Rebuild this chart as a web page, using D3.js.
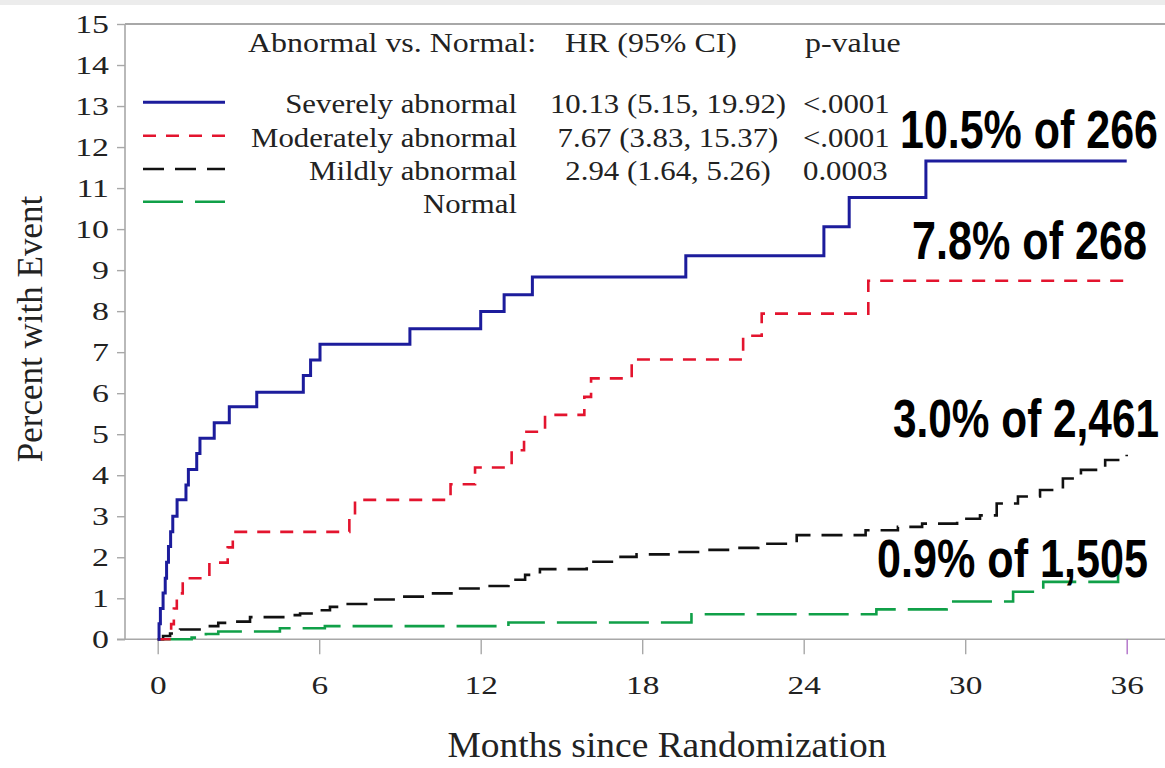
<!DOCTYPE html>
<html>
<head>
<meta charset="utf-8">
<script src="https://cdn.jsdelivr.net/npm/d3@7/dist/d3.min.js"></script>
<style>
  html, body { margin: 0; padding: 0; background: #fff; }
  svg { display: block; }
</style>
</head>
<body>
<svg id="chart" width="1165" height="768"></svg>
<script>
// ---------- DATA ----------
const xTicks = [0, 6, 12, 18, 24, 30, 36];
const yTicks = [0, 1, 2, 3, 4, 5, 6, 7, 8, 9, 10, 11, 12, 13, 14, 15];

// cumulative percent with event (month, percent) step points
const severelyMonths = [0, 0.05, 0.1, 0.2, 0.28, 0.33, 0.4, 0.48, 0.56, 0.72, 1.05, 1.14, 1.45, 1.57, 2.1, 2.66, 3.68, 5.41, 5.68, 6.03, 9.37, 12.0, 12.87, 13.92, 19.62, 24.75, 25.69, 28.54, 36];
const severelyPct    = [0, 0.38, 0.75, 1.13, 1.49, 1.88, 2.26, 2.62, 3.0, 3.4, 3.76, 4.14, 4.53, 4.9, 5.28, 5.67, 6.02, 6.43, 6.81, 7.19, 7.57, 7.99, 8.4, 8.83, 9.35, 10.06, 10.77, 11.66, 11.66];

const moderatelyMonths = [0, 0.5, 0.6, 0.71, 0.93, 1.92, 2.6, 2.79, 7.12, 7.33, 10.88, 11.79, 13.15, 13.61, 14.39, 15.85, 16.1, 17.61, 21.75, 22.44, 26.4, 36];
const moderatelyPct    = [0, 0.37, 0.75, 1.12, 1.49, 1.87, 2.24, 2.62, 3.0, 3.4, 3.78, 4.19, 4.61, 5.06, 5.47, 5.91, 6.36, 6.82, 7.4, 7.94, 8.74, 8.74];

const mildlyMonths = [0, 0.2, 0.46, 0.83, 1.76, 2.25, 2.75, 3.43, 5.04, 5.29, 6.03, 6.4, 6.96, 7.95, 8.94, 9.99, 11.05, 12.1, 13.03, 13.65, 14.2, 15.94, 16.99, 17.79, 19.15, 20.15, 21.26, 22.31, 23.74, 26.3, 27.5, 28.4, 29.7, 30.55, 31.17, 31.96, 32.78, 33.63, 34.3, 35.2, 36];
const mildlyPct    = [0, 0.08, 0.14, 0.24, 0.32, 0.4, 0.43, 0.54, 0.59, 0.63, 0.71, 0.79, 0.86, 0.97, 1.04, 1.12, 1.24, 1.3, 1.45, 1.57, 1.71, 1.89, 2.01, 2.07, 2.13, 2.18, 2.23, 2.33, 2.54, 2.66, 2.74, 2.82, 2.94, 3.02, 3.31, 3.48, 3.64, 3.92, 4.13, 4.37, 4.5];

const normalMonths = [0, 1.26, 1.79, 2.25, 4.54, 6.21, 13.03, 19.83, 26.7, 29.31, 31.78, 32.9, 35.68, 36];
const normalPct    = [0, 0.04, 0.13, 0.19, 0.27, 0.32, 0.41, 0.61, 0.73, 0.92, 1.16, 1.4, 1.65, 1.65];

const seriesNames = ["Severely abnormal", "Moderately abnormal", "Mildly abnormal", "Normal"];
const hrLabels = ["10.13 (5.15, 19.92)", "7.67 (3.83, 15.37)", "2.94 (1.64, 5.26)", ""];
const pLabels  = ["<.0001", "<.0001", "0.0003", ""];
const headerLabels = ["Abnormal vs. Normal:", "HR (95% CI)", "p-value"];
const annotations = ["10.5% of 266", "7.8% of 268", "3.0% of 2,461", "0.9% of 1,505"];

(function () {
// ---------- LAYOUT ----------
const svg = d3.select("#chart");
const W = 1165;
const plotLeft = 125, plotTop = 24, x0 = 157.7, x36 = 1126.7, yBottom = 639.3;

const x = d3.scaleLinear().domain([0, 36]).range([x0, x36]);
const y = d3.scaleLinear().domain([0, 15]).range([yBottom, plotTop]);

const serif = "'Liberation Serif', 'Times New Roman', serif";
const textCol = "#222";

// horizontally stretch a text selection (the reference is a widened image)
function stretch(sel, k) {
  sel.each(function () {
    const len = this.getComputedTextLength();
    if (len > 0) {
      d3.select(this).attr("textLength", len * k).attr("lengthAdjust", "spacingAndGlyphs");
    }
  });
  return sel;
}

// top grey strip (screenshot edge)
svg.append("rect").attr("x", 0).attr("y", 0).attr("width", W).attr("height", 5).attr("fill", "#ececec");

// frame lines
const axisColor = "#a8a8a8";
svg.append("line").attr("x1", plotLeft).attr("x2", W).attr("y1", plotTop).attr("y2", plotTop)
   .attr("stroke", axisColor).attr("stroke-width", 2);
svg.append("line").attr("x1", plotLeft).attr("x2", plotLeft).attr("y1", plotTop).attr("y2", yBottom)
   .attr("stroke", axisColor).attr("stroke-width", 1.6);
svg.append("line").attr("x1", 117).attr("x2", W).attr("y1", yBottom).attr("y2", yBottom)
   .attr("stroke", axisColor).attr("stroke-width", 1.6);

// y axis
const yAxis = d3.axisLeft(y).tickValues(yTicks).tickSize(8).tickPadding(8).tickFormat(d3.format("d"));
const gy = svg.append("g").attr("transform", `translate(${plotLeft},0)`).call(yAxis);
gy.select(".domain").remove();
gy.selectAll(".tick line").attr("stroke", axisColor).attr("stroke-width", 1.4);
gy.selectAll(".tick text").attr("font-family", serif).attr("font-size", 26).attr("fill", textCol);
stretch(gy.selectAll(".tick text"), 1.3);

// x axis
const xAxis = d3.axisBottom(x).tickValues(xTicks).tickSize(15).tickPadding(21).tickFormat(d3.format("d"));
const gx = svg.append("g").attr("transform", `translate(0,${yBottom})`).call(xAxis);
gx.select(".domain").remove();
gx.selectAll(".tick line").attr("stroke", (d) => d === 36 ? "#b070c8" : axisColor).attr("stroke-width", 1.4);
gx.selectAll(".tick text").attr("font-family", serif).attr("font-size", 26).attr("fill", textCol);
stretch(gx.selectAll(".tick text"), 1.28);

// axis titles
stretch(svg.append("text").attr("x", 667).attr("y", 757).attr("text-anchor", "middle")
   .attr("font-family", serif).attr("font-size", 35).attr("fill", textCol)
   .text("Months since Randomization"), 1.07);
svg.append("text").attr("transform", "translate(42,329) rotate(-90)").attr("text-anchor", "middle")
   .attr("font-family", serif).attr("font-size", 35).attr("fill", textCol)
   .text("Percent with Event");

// series
const styles = [
  { color: "#1c1c9c", width: 3,   dash: null },
  { color: "#e3142e", width: 2.6, dash: "13,10" },
  { color: "#111111", width: 2.6, dash: "21,11" },
  { color: "#10a048", width: 2.6, dash: "40,12" }
];
const series = [
  d3.zip(severelyMonths, severelyPct),
  d3.zip(moderatelyMonths, moderatelyPct),
  d3.zip(mildlyMonths, mildlyPct),
  d3.zip(normalMonths, normalPct)
];
const line = d3.line().x(d => x(d[0])).y(d => y(d[1])).curve(d3.curveStepAfter);

for (let i = series.length - 1; i >= 0; i--) {
  svg.append("path").datum(series[i])
    .attr("d", line)
    .attr("fill", "none")
    .attr("stroke", styles[i].color)
    .attr("stroke-width", styles[i].width)
    .attr("stroke-dasharray", styles[i].dash)
    .attr("stroke-linejoin", "miter");
}

// legend header
const headerX = [248, 565, 805];
headerLabels.forEach((t, i) => {
  stretch(svg.append("text").attr("x", headerX[i]).attr("y", 52)
    .attr("font-family", serif).attr("font-size", 28).attr("fill", textCol).text(t), 1.14);
});

// legend rows
const legFont = 28, legK = 1.1;
const rowY = [102.3, 135.7, 169, 201.7];
seriesNames.forEach((name, i) => {
  const yy = rowY[i];
  svg.append("line").attr("x1", 143).attr("x2", 225).attr("y1", yy).attr("y2", yy)
    .attr("stroke", styles[i].color).attr("stroke-width", styles[i].width)
    .attr("stroke-dasharray", styles[i].dash);
  stretch(svg.append("text").attr("x", 517).attr("y", yy + 11).attr("text-anchor", "end")
    .attr("font-family", serif).attr("font-size", legFont).attr("fill", textCol).text(name), legK);
  stretch(svg.append("text").attr("x", 668).attr("y", yy + 11).attr("text-anchor", "middle")
    .attr("font-family", serif).attr("font-size", legFont).attr("fill", textCol).text(hrLabels[i]), legK);
  stretch(svg.append("text").attr("x", 803).attr("y", yy + 11)
    .attr("font-family", serif).attr("font-size", legFont).attr("fill", textCol).text(pLabels[i]), legK);
});

// annotations (bold, horizontally condensed via transform)
const annLayout = [
  { x: 900, y: 148, w: 258 },
  { x: 912, y: 259, w: 235 },
  { x: 893, y: 437, w: 266 },
  { x: 877, y: 577, w: 271 }
];
annotations.forEach((t, i) => {
  const a = annLayout[i];
  const g = svg.append("g");
  const txt = g.append("text").attr("x", 0).attr("y", 0)
    .attr("font-family", "'Liberation Sans Narrow', 'Liberation Sans', Arial, sans-serif")
    .attr("font-weight", "bold").attr("font-size", 53).attr("fill", "#000")
    .text(t);
  const w0 = txt.node().getComputedTextLength();
  const k = w0 > 0 ? a.w / w0 : 1;
  g.attr("transform", `translate(${a.x},${a.y}) scale(${k},1)`);
});
})();
</script>
</body>
</html>
